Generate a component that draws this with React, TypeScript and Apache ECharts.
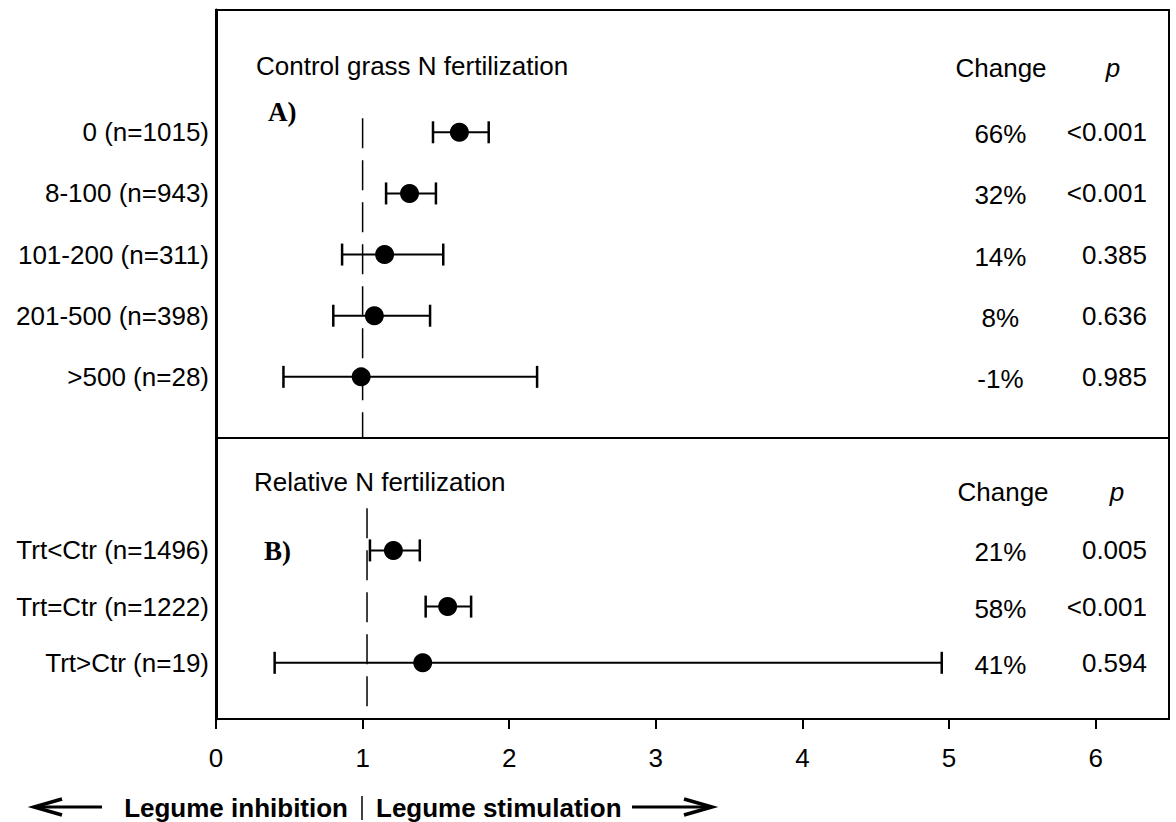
import React, { useEffect, useRef } from 'react';
import * as echarts from 'echarts';

// ---- Data ----
const topCategories = ['0 (n=1015)', '8-100 (n=943)', '101-200 (n=311)', '201-500 (n=398)', '>500 (n=28)'];
const topMean = [1.66, 1.32, 1.15, 1.08, 0.99];
const topLow = [1.48, 1.16, 0.86, 0.8, 0.46];
const topHigh = [1.86, 1.5, 1.55, 1.46, 2.19];
const topChange = ['66%', '32%', '14%', '8%', '-1%'];
const topP = ['<0.001', '<0.001', '0.385', '0.636', '0.985'];

const bottomCategories = ['Trt<Ctr (n=1496)', 'Trt=Ctr (n=1222)', 'Trt>Ctr (n=19)'];
const bottomMean = [1.21, 1.58, 1.41];
const bottomLow = [1.05, 1.43, 0.4];
const bottomHigh = [1.39, 1.74, 4.95];
const bottomChange = ['21%', '58%', '41%'];
const bottomP = ['0.005', '<0.001', '0.594'];

const xTicks = [0, 1, 2, 3, 4, 5, 6];
const topRefLine = 1;
const bottomRefLine = 1.03;

const FONT = '"Liberation Sans", Arial, sans-serif';
const SERIF = '"Liberation Serif", "Times New Roman", serif';

function errRender(params: any, api: any) {
  const row = api.value(2);
  const lo = api.coord([api.value(0), row]);
  const hi = api.coord([api.value(1), row]);
  const h = 11;
  const s = { stroke: '#000', lineWidth: 2, fill: 'none' };
  const c = { stroke: '#000', lineWidth: 2.5, fill: 'none' };
  return {
    type: 'group',
    children: [
      { type: 'line', shape: { x1: lo[0], y1: lo[1], x2: hi[0], y2: hi[1] }, style: s },
      { type: 'line', shape: { x1: lo[0], y1: lo[1] - h, x2: lo[0], y2: lo[1] + h }, style: c },
      { type: 'line', shape: { x1: hi[0], y1: hi[1] - h, x2: hi[0], y2: hi[1] + h }, style: c },
    ],
  };
}

function makeTextRender(changes: string[], ps: string[]) {
  return (params: any, api: any) => {
    const i = params.dataIndex;
    const row = api.value(1);
    const a = api.coord([5.35, row]);
    const b = api.coord([6.35, row]);
    return {
      type: 'group',
      children: [
        {
          type: 'text',
          x: a[0],
          y: a[1] + 2,
          style: { text: changes[i], fill: '#000', fontSize: 26, fontFamily: FONT, align: 'center', verticalAlign: 'middle' },
        },
        {
          type: 'text',
          x: b[0],
          y: b[1],
          style: { text: ps[i], fill: '#000', fontSize: 26, fontFamily: FONT, align: 'right', verticalAlign: 'middle' },
        },
      ],
    };
  };
}

function txt(text: string, x: number, y: number, extra: any = {}) {
  return {
    type: 'text',
    x,
    y,
    style: {
      text,
      fill: '#000',
      fontSize: 26,
      fontFamily: FONT,
      align: 'left',
      verticalAlign: 'middle',
      ...extra,
    },
  };
}

export default function App() {
  const ref = useRef<HTMLDivElement>(null);

  useEffect(() => {
    document.body.style.margin = '0';
    if (!ref.current) return;
    const chart = echarts.init(ref.current, undefined, { renderer: 'svg' });

    const option: any = {
      animation: false,
      backgroundColor: '#fff',
      textStyle: { fontFamily: FONT },
      grid: [
        { left: 216, right: 7, top: 10, height: 428, show: true, borderColor: '#000', borderWidth: 2 },
        { left: 216, right: 7, top: 438, height: 281, show: true, borderColor: '#000', borderWidth: 2 },
      ],
      xAxis: [
        { gridIndex: 0, type: 'value', min: 0, max: 6.5, show: false },
        {
          gridIndex: 1,
          type: 'value',
          min: 0,
          max: 6.5,
          interval: 1,
          splitLine: { show: false },
          axisLine: { show: true, onZero: false, lineStyle: { color: '#000', width: 2 } },
          axisTick: { show: true, inside: false, length: 10, lineStyle: { color: '#000', width: 2 }, customValues: xTicks },
          axisLabel: {
            color: '#000',
            fontSize: 26,
            fontFamily: FONT,
            margin: 26,
            customValues: xTicks,
            formatter: (v: number) => String(v),
          },
        },
      ],
      yAxis: [
        {
          gridIndex: 0,
          type: 'value',
          inverse: true,
          min: -2,
          max: 5,
          interval: 1,
          splitLine: { show: false },
          axisTick: { show: false },
          axisLine: { show: true, onZero: false, lineStyle: { color: '#000', width: 3 } },
          axisLabel: {
            color: '#000',
            fontSize: 26,
            fontFamily: FONT,
            margin: 7,
            formatter: (v: number) => topCategories[v] ?? '',
          },
        },
        {
          gridIndex: 1,
          type: 'value',
          inverse: true,
          min: -2,
          max: 3,
          interval: 1,
          splitLine: { show: false },
          axisTick: { show: false },
          axisLine: { show: true, onZero: false, lineStyle: { color: '#000', width: 3 } },
          axisLabel: {
            color: '#000',
            fontSize: 26,
            fontFamily: FONT,
            margin: 7,
            formatter: (v: number) => bottomCategories[v] ?? '',
          },
        },
      ],
      series: [
        {
          type: 'line',
          xAxisIndex: 0,
          yAxisIndex: 0,
          data: [[topRefLine, -0.23], [topRefLine, 5]],
          symbol: 'none',
          lineStyle: { color: '#000', width: 1.5, type: [30, 12] },
          silent: true,
        },
        {
          type: 'line',
          xAxisIndex: 1,
          yAxisIndex: 1,
          data: [[bottomRefLine, -0.75], [bottomRefLine, 3]],
          symbol: 'none',
          lineStyle: { color: '#000', width: 1.5, type: [30, 12] },
          silent: true,
        },
        {
          type: 'custom',
          xAxisIndex: 0,
          yAxisIndex: 0,
          renderItem: errRender,
          encode: { x: [0, 1], y: 2 },
          data: topLow.map((lo, i) => [lo, topHigh[i], i]),
        },
        {
          type: 'custom',
          xAxisIndex: 1,
          yAxisIndex: 1,
          renderItem: errRender,
          encode: { x: [0, 1], y: 2 },
          data: bottomLow.map((lo, i) => [lo, bottomHigh[i], i]),
        },
        {
          type: 'scatter',
          xAxisIndex: 0,
          yAxisIndex: 0,
          symbolSize: 19,
          itemStyle: { color: '#000', opacity: 1 },
          data: topMean.map((m, i) => [m, i]),
        },
        {
          type: 'scatter',
          xAxisIndex: 1,
          yAxisIndex: 1,
          symbolSize: 19,
          itemStyle: { color: '#000', opacity: 1 },
          data: bottomMean.map((m, i) => [m, i]),
        },
        {
          type: 'custom',
          xAxisIndex: 0,
          yAxisIndex: 0,
          renderItem: makeTextRender(topChange, topP),
          encode: { x: 0, y: 1 },
          data: topChange.map((_, i) => [5.35, i]),
        },
        {
          type: 'custom',
          xAxisIndex: 1,
          yAxisIndex: 1,
          renderItem: makeTextRender(bottomChange, bottomP),
          encode: { x: 0, y: 1 },
          data: bottomChange.map((_, i) => [5.35, i]),
        },
      ],
      graphic: [
        txt('Control grass N fertilization', 256, 66),
        txt('A)', 268, 112, { fontFamily: SERIF, fontWeight: 'bold', fontSize: 27 }),
        txt('Change', 1001, 68, { align: 'center' }),
        txt('p', 1113, 68, { align: 'center', fontStyle: 'italic' }),
        txt('Relative N fertilization', 254, 482),
        txt('B)', 264, 551, { fontFamily: SERIF, fontWeight: 'bold', fontSize: 27 }),
        txt('Change', 1003, 492, { align: 'center' }),
        txt('p', 1117, 492, { align: 'center', fontStyle: 'italic' }),
        txt('Legume inhibition', 348, 808, { align: 'right', fontWeight: 'bold' }),
        txt('Legume stimulation', 376, 808, { align: 'left', fontWeight: 'bold' }),
        { type: 'line', shape: { x1: 362, y1: 796, x2: 362, y2: 820 }, style: { stroke: '#000', lineWidth: 1.5 } },
        { type: 'line', shape: { x1: 36, y1: 807, x2: 102, y2: 807 }, style: { stroke: '#000', lineWidth: 3 } },
        { type: 'polyline', shape: { points: [[62, 799], [34, 807], [62, 815]] }, style: { stroke: '#000', lineWidth: 3.5, fill: 'none' } },
        { type: 'line', shape: { x1: 632, y1: 807, x2: 710, y2: 807 }, style: { stroke: '#000', lineWidth: 3 } },
        { type: 'polyline', shape: { points: [[684, 799], [712, 807], [684, 815]] }, style: { stroke: '#000', lineWidth: 3.5, fill: 'none' } },
      ],
    };

    chart.setOption(option);
    return () => chart.dispose();
  }, []);

  return <div ref={ref} style={{ width: 1176, height: 822 }} />;
}
